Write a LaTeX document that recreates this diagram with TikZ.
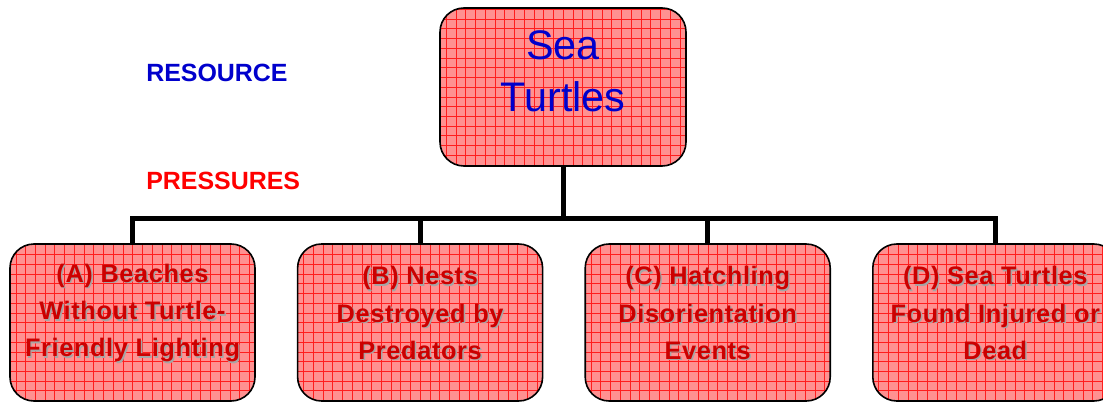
\documentclass[tikz,border=0pt]{standalone}
\usepackage{fontspec}
\setmainfont{Liberation Sans}
\usepackage{xcolor}
\definecolor{tpink}{RGB}{255,145,145}
\definecolor{tgrid}{RGB}{255,30,30}
\definecolor{tblue}{RGB}{0,0,204}
\definecolor{tdred}{RGB}{204,0,0}
\definecolor{tred}{RGB}{255,0,0}
\definecolor{tshadow}{RGB}{165,165,165}
\usetikzlibrary{positioning}
\newcommand{\shtext}[1]{\makebox[0pt][l]{\kern1.1pt\raisebox{-1.1pt}{\color{tshadow}#1}}#1}

\begin{document}
\begin{tikzpicture}[x=0.75pt,y=-0.75pt,node distance=30.75pt]
\tikzset{
 box/.style={draw=black,line width=1.2pt,rounded corners=18pt,fill=tpink,
  path picture={\draw[tgrid,line width=0.3pt] (path picture bounding box.south west) grid[step=7.3pt] (path picture bounding box.north east);}},
 rbox/.style={box,minimum width=184.5pt,minimum height=118.5pt},
 pbox/.style={box,minimum width=183.75pt,minimum height=117.75pt},
 rtext/.style={text=tblue,align=center,font=\fontsize{31}{39}\selectfont,yshift=12pt},
 ptext/.style={text=tdred,align=center,font=\bfseries\fontsize{19}{28}\selectfont\addfontfeature{LetterSpace=2.5},yshift=6.5pt},
 hdr/.style={anchor=west,inner sep=0pt,font=\bfseries\fontsize{18.7}{20}\selectfont},
 bus/.style={line width=3.75pt}
}
\useasboundingbox (0,0) rectangle (1103,403);
\clip (0,0) rectangle (1103,403);
\node[hdr,text=tblue] (lres) at (146,73) {RESOURCE};
\node[hdr,text=tred] (lpre) at (146,181) {PRESSURES};
\node[rbox,label={[rtext]center:{Sea\\Turtles}}] (res) at (563,87) {};
\node[pbox,label={[ptext]center:{\shtext{(A) Beaches}\\\shtext{Without Turtle-}\\\shtext{Friendly Lighting}}}] (pa) at (132.5,322.5) {};
\node[pbox,right=of pa,label={[ptext]center:{\shtext{(B) Nests}\\\shtext{Destroyed by}\\\shtext{Predators}}}] (pb) {};
\node[pbox,right=of pb,label={[ptext]center:{\shtext{(C) Hatchling}\\\shtext{Disorientation}\\\shtext{Events}}}] (pc) {};
\node[pbox,right=of pc,label={[ptext]center:{\shtext{(D) Sea Turtles}\\\shtext{Found Injured or}\\\shtext{Dead}}}] (pd) {};
\coordinate (bus) at (563,218);
\draw[bus] (res.south) -- (bus);
\draw[bus] (pa.north) |- (bus) -| (pd.north);
\foreach \n in {pb,pc}{\draw[bus] (\n.north) -- (\n.north |- bus);}
\end{tikzpicture}
\end{document}
